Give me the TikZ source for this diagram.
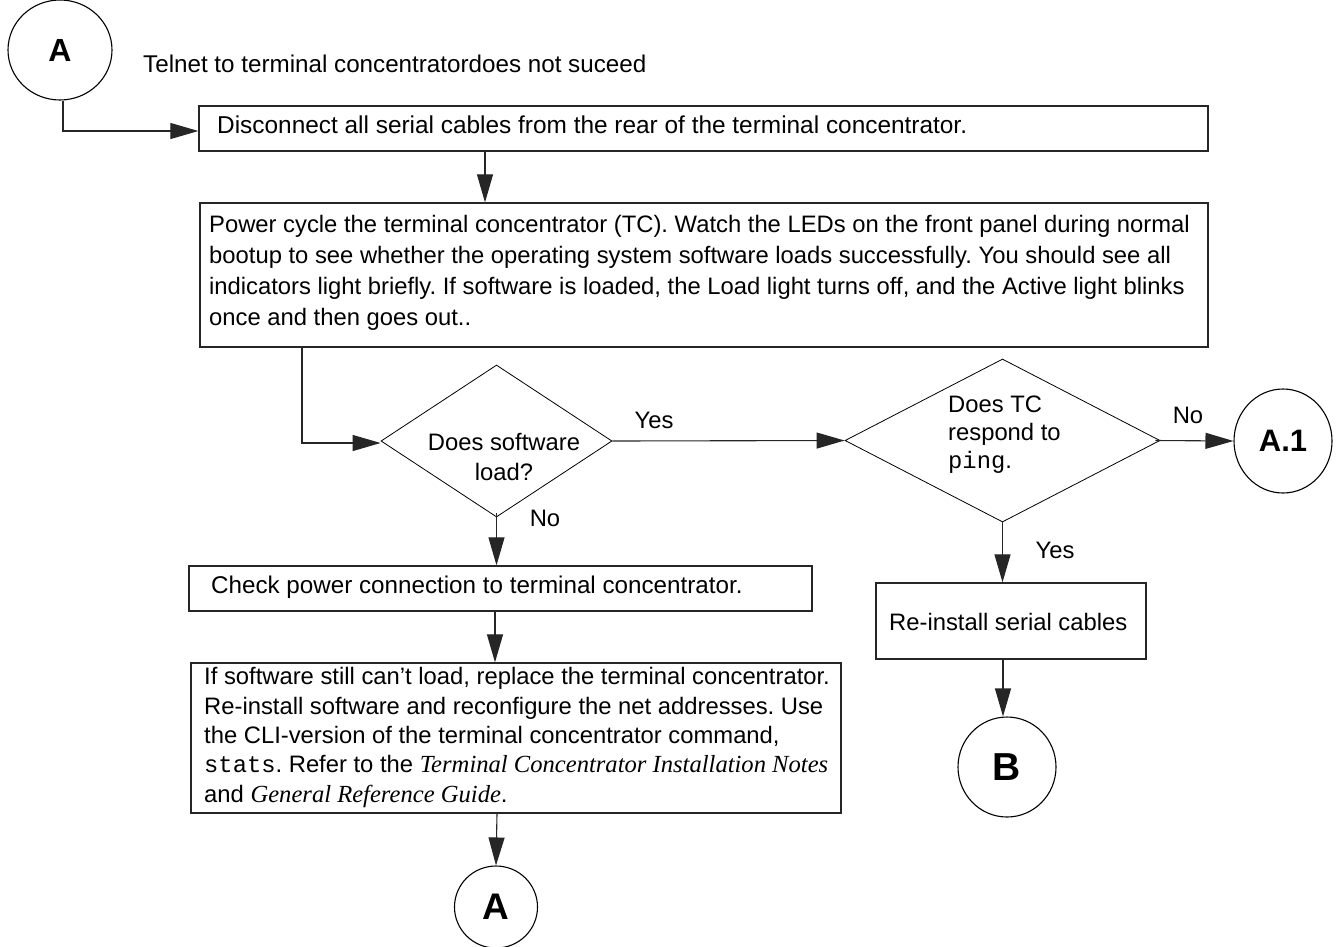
\documentclass[tikz,border=0pt]{standalone}
\usepackage{fontspec}
\setmainfont{Liberation Sans}
\setmonofont{Liberation Mono}
\newfontfamily\tms{Liberation Serif}
\usetikzlibrary{arrows.meta,shapes.geometric}
\frenchspacing

% multi-line nodes are placed by the baseline of their last line
\tikzset{
  box/.style={draw=black!85, line width=1.3pt, rectangle, inner sep=0pt},
  dia/.style={draw=black, line width=0.8pt, diamond, inner sep=0pt},
  circ/.style={draw=black, line width=1.1pt, ellipse, inner sep=0pt, font=\bfseries},
  txt/.style={inner sep=0pt, anchor=base west, align=left, font=\fontsize{23.8}{31}\selectfont},
  lbl/.style={inner sep=0pt, anchor=base, font=\fontsize{23.8}{28}\selectfont},
  conn/.style={draw=black!85, line width=1.1pt, -{Triangle[length=28pt,width=16pt]}}
}
\newcommand{\booktitle}[1]{{\tms\itshape\fontsize{24.6}{29.3}\selectfont #1}}

\begin{document}
\begin{tikzpicture}[x=1pt, y=-1pt]
\useasboundingbox[fill=white] (0,0) rectangle (1338,946);

% start connector A and heading
\node[circ, minimum width=104pt, minimum height=100pt, font=\bfseries\fontsize{32}{32}\selectfont] (cA) at (60,50) {A};
\node[txt, font=\fontsize{24.2}{28}\selectfont] (tel) at (143,72) {Telnet to terminal concentratordoes not suceed};

% first two steps
\node[box, minimum width=1009pt, minimum height=45pt] (b1) at (703.5,128.5) {};
\node[txt, font=\fontsize{24.4}{28}\selectfont] (t1) at (217,133) {Disconnect all serial cables from the rear of the terminal concentrator.};

\node[box, minimum width=1008pt, minimum height=144pt] (b2) at (704,275) {};
\node[txt] (t2) at (209,325) {Power cycle the terminal concentrator (TC). Watch the LEDs on the front panel during normal\\
bootup to see whether the operating system software loads successfully. You should see all\\
indicators light briefly. If software is loaded, the Load light turns off, and the Active light blinks\\
once and then goes out..};

% decisions
\node[dia, minimum width=231pt, minimum height=152pt] (d1) at (496.5,441) {};
\node[lbl, align=center, font=\fontsize{23.8}{30}\selectfont] (td1) at (504,480) {Does software\\load?};
\node[lbl] (y1) at (654,428) {Yes};
\node[lbl] (n1) at (545,526) {No};

\node[dia, minimum width=315pt, minimum height=163pt] (d2) at (1002.5,440.5) {};
\node[txt, font=\fontsize{23.8}{28}\selectfont] (td2) at (948,468) {Does TC\\respond to\\\texttt{ping}.};
\node[lbl] (n2) at (1188,423) {No};
\node[lbl] (y2) at (1055,558) {Yes};

\node[circ, minimum width=98pt, minimum height=104pt, font=\bfseries\fontsize{31}{31}\selectfont] (cA1) at (1283,441) {A.1};

% right branch
\node[box, minimum width=270pt, minimum height=76pt] (b5) at (1011,621) {};
\node[txt] (t5) at (889,630) {Re-install serial cables};
\node[circ, minimum width=98pt, minimum height=100pt, font=\bfseries\fontsize{39}{39}\selectfont] (cB) at (1007,767) {B};

% left branch
\node[box, minimum width=623pt, minimum height=45pt] (b3) at (500.5,588.5) {};
\node[txt, font=\fontsize{24.2}{28}\selectfont] (t3) at (211,593) {Check power connection to terminal concentrator.};

\node[box, minimum width=650pt, minimum height=150pt] (b4) at (516,738) {};
\node[txt, font=\fontsize{23.8}{29.3}\selectfont] (t4) at (204,802) {If software still can’t load, replace the terminal concentrator.\\
Re-install software and reconfigure the net addresses. Use\\
the CLI-version of the terminal concentrator command,\\
\texttt{stats}. Refer to the \booktitle{Terminal Concentrator Installation Notes}\\
and \booktitle{General Reference Guide}.};

\node[circ, minimum width=83pt, minimum height=82pt, font=\bfseries\fontsize{37}{37}\selectfont] (cA2) at (496,907) {A};

% connectors
\draw[conn] ([xshift=3pt]cA.south) |- ([yshift=-2.5pt]b1.west);
\draw[conn] ([xshift=-218.5pt]b1.south) -- ([xshift=-219pt]b2.north);
\draw[conn] ([xshift=-402pt]b2.south) |- ([yshift=-2pt]d1.west);
\draw[conn] (d1.east) -- (d2.west);
\draw[conn] ([xshift=-5pt]d2.east) -- (cA1.west);
\draw[conn] (d2.south) -- (d2.south |- b5.north);
\draw[conn] ([xshift=-8pt]b5.south) -- ([xshift=-8pt]b5.south |- cB.north);
\draw[conn] ([yshift=4pt]d1.south) -- (d1.south |- b3.north);
\draw[conn] ([xshift=-5.5pt]b3.south) -- ([xshift=-5.5pt]b3.south |- b4.north);
\draw[conn] ([xshift=-19pt]b4.south) -- (cA2.north);
\end{tikzpicture}
\end{document}
